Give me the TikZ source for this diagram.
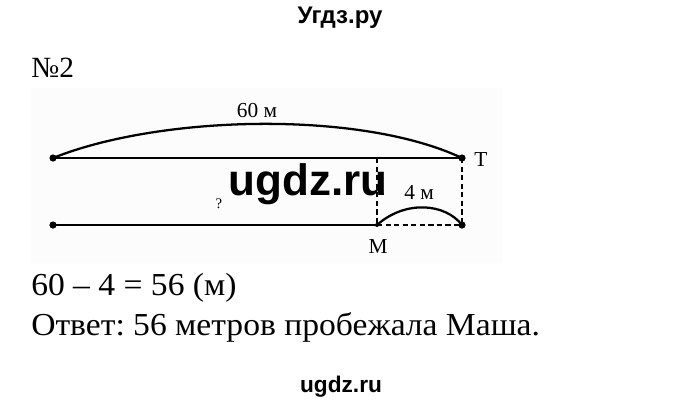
\documentclass[tikz,border=0pt]{standalone}
\usepackage{fontspec}
\setmainfont{Liberation Serif}
\newfontfamily\hsans{Liberation Sans}
\newfontfamily\ansfont[FakeStretch=1.05]{Liberation Serif}
\frenchspacing
\begin{document}
\begin{tikzpicture}[x=0.75pt,y=-0.75pt,
  dotnode/.style={circle,fill=black,inner sep=0pt,minimum size=5.4pt},
  smalldot/.style={circle,fill=black,inner sep=0pt,minimum size=3pt},
  seg/.style={line width=1.7pt},
  dseg/.style={line width=1.4pt,dash pattern=on 4pt off 2.4pt},
  lab/.style={font=\fontsize{16}{18}\selectfont,inner sep=0pt,anchor=base},
  wm/.style={font=\hsans\bfseries\fontsize{18}{20}\selectfont,inner sep=0pt,anchor=base},
  ans/.style={font=\ansfont\fontsize{24}{28}\selectfont,inner sep=0pt,anchor=base west}]
\useasboundingbox (0,0) rectangle (680,405);
\fill[white] (0,0) rectangle (680,405);
\fill[black!1] (30,88) rectangle (502,263);
% header / footer
\node[wm] (hdr) at (340,23) {Угдз.ру};
\node[wm,font=\hsans\bfseries\fontsize{17}{19}\selectfont] (ftr) at (341,392) {ugdz.ru};
\node[inner sep=0pt,anchor=base west,font=\fontsize{22}{24}\selectfont] (num) at (31,77) {№2};
% points
\node[dotnode] (A) at (53,158) {};
\node[dotnode] (T) at (462,158) {};
\node[dotnode] (B) at (53,225) {};
\node[smalldot] (M) at (377,225) {};
\node[dotnode] (C) at (462,225) {};
\coordinate (K) at (377,158);
% lines
\draw[seg] (A.center) -- (T.center);
\draw[seg] (B.center) -- (M.center);
\draw[dseg] (M.center) -- (C.center);
\draw[dseg] (K) -- (M.center);
\draw[dseg] (T.center) -- (C.center);
\draw[seg] (A.center) .. controls (160,115) and (360,110) .. (T.center);
\draw[seg] (M.center) .. controls (405,200) and (445,203) .. (C.center);
% labels
\node[lab] (l60) at (257,117) {60 м};
\node[lab] (l4) at (419,199) {4 м};
\node[lab] (lT) at (481,166) {Т};
\node[lab] (lM) at (378,253) {М};
\node[lab,font=\fontsize{11}{12}\selectfont] (lq) at (219,208) {?};
% watermark
\node[wm,font=\hsans\bfseries\fontsize{33}{36}\selectfont] (wmk) at (308,195) {ugdz.ru};
% answer
\node[ans] (eq) at (31,295) {60 – 4 = 56 (м)};
\node[ans] (otv) at (31,335) {Ответ: 56 метров пробежала Маша.};
\end{tikzpicture}
\end{document}
